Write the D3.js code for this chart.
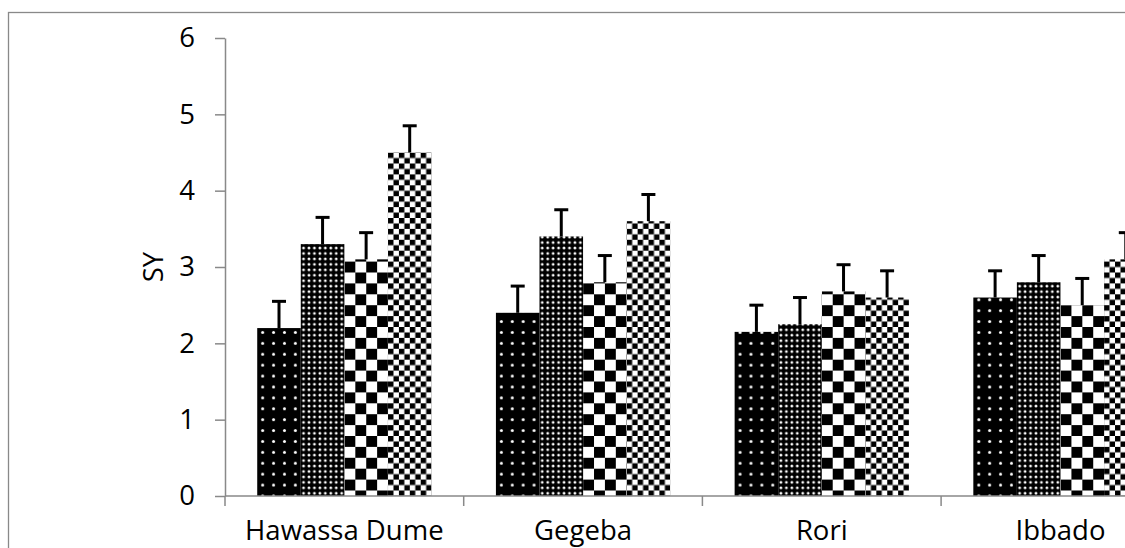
<!DOCTYPE html>
<html>
<head>
<meta charset="utf-8">
<script src="https://cdn.jsdelivr.net/npm/d3@7"></script>
<style>
  html, body { margin: 0; padding: 0; background: #fff; overflow: hidden; }
  svg { display: block; font-family: 'Open Sans', sans-serif; }
</style>
</head>
<body>
<svg id="chart"></svg>
<script>
// Values
const categories = ['Hawassa Dume', 'Gegeba', 'Rori', 'Ibbado']
const seriesKeys = ['s1', 's2', 's3', 's4']
const s1 = [2.2, 2.4, 2.15, 2.6]
const s2 = [3.3, 3.4, 2.25, 2.8]
const s3 = [3.1, 2.8, 2.68, 2.5]
const s4 = [4.5, 3.6, 2.6, 3.1]
const errS1 = [0.35, 0.35, 0.35, 0.35]
const errS2 = [0.35, 0.35, 0.35, 0.35]
const errS3 = [0.35, 0.35, 0.35, 0.35]
const errS4 = [0.35, 0.35, 0.35, 0.35]
const yTicks = [0, 1, 2, 3, 4, 5, 6]
const yTitle = 'SY'

const values = { s1, s2, s3, s4 }
const errors = { s1: errS1, s2: errS2, s3: errS3, s4: errS4 }

const width = 1125
const height = 548
const margin = { left: 225, top: 38, bottom: 52 }
const step = 238.7
const gridColor = '#898989'
const fontSize = 27.5

const svg = d3.select('#chart')
  .attr('width', width)
  .attr('height', height)

// Fill patterns (Excel style)
const defs = svg.append('defs')
const big = 10.9
const small = big / 2

const p1 = defs.append('pattern').attr('id', 'pat-s1')
  .attr('patternUnits', 'userSpaceOnUse').attr('width', big).attr('height', big)
p1.append('rect').attr('width', big).attr('height', big).attr('fill', '#000')
p1.append('circle').attr('cx', big / 2).attr('cy', big / 2).attr('r', 1.5).attr('fill', '#fff')

const p2 = defs.append('pattern').attr('id', 'pat-s2')
  .attr('patternUnits', 'userSpaceOnUse').attr('width', small).attr('height', small)
p2.append('rect').attr('width', small).attr('height', small).attr('fill', '#000')
p2.append('circle').attr('cx', small / 2).attr('cy', small / 2).attr('r', 1.4).attr('fill', '#fff')

const p3 = defs.append('pattern').attr('id', 'pat-s3')
  .attr('patternUnits', 'userSpaceOnUse').attr('width', big * 2).attr('height', big * 2)
p3.append('rect').attr('width', big * 2).attr('height', big * 2).attr('fill', '#fff')
p3.append('rect').attr('width', big).attr('height', big).attr('fill', '#000')
p3.append('rect').attr('x', big).attr('y', big).attr('width', big).attr('height', big).attr('fill', '#000')

const p4 = defs.append('pattern').attr('id', 'pat-s4')
  .attr('patternUnits', 'userSpaceOnUse').attr('width', big).attr('height', big)
p4.append('rect').attr('width', big).attr('height', big).attr('fill', '#fff')
p4.append('rect').attr('width', small).attr('height', small).attr('fill', '#000')
p4.append('rect').attr('x', small).attr('y', small).attr('width', small).attr('height', small).attr('fill', '#000')

// Chart area frame (clipped at right and bottom like the reference)
svg.append('rect')
  .attr('x', 8.5).attr('y', 12.5)
  .attr('width', 2000).attr('height', 2000)
  .attr('fill', 'none')
  .attr('stroke', gridColor)
  .attr('stroke-width', 1.3)

// Scales
const x = d3.scaleBand()
  .domain(categories)
  .range([margin.left, margin.left + step * categories.length])
  .paddingInner(0.27)
  .paddingOuter(0.135)

const xs = d3.scaleBand()
  .domain(seriesKeys)
  .range([0, x.bandwidth()])

const y = d3.scaleLinear()
  .domain([0, 6])
  .range([height - margin.bottom, margin.top])

// Bars
const groups = svg.append('g').attr('class', 'groups')
  .selectAll('g')
  .data(categories)
  .join('g')
    .attr('transform', d => `translate(${x(d)},0)`)

groups.selectAll('rect')
  .data((c, i) => seriesKeys.map(k => ({ key: k, value: values[k][i], err: errors[k][i] })))
  .join('rect')
    .attr('x', d => xs(d.key))
    .attr('y', d => y(d.value))
    .attr('width', xs.bandwidth())
    .attr('height', d => y(0) - y(d.value))
    .attr('fill', d => `url(#pat-${d.key})`)

// Error bars (upper only)
const errG = groups.selectAll('g.err')
  .data((c, i) => seriesKeys.map(k => ({ key: k, value: values[k][i], err: errors[k][i] })))
  .join('g')
    .attr('class', 'err')
    .attr('stroke', '#000')
    .attr('stroke-width', 3)

errG.append('line')
  .attr('x1', d => xs(d.key) + xs.bandwidth() / 2)
  .attr('x2', d => xs(d.key) + xs.bandwidth() / 2)
  .attr('y1', d => y(d.value))
  .attr('y2', d => y(d.value + d.err))

errG.append('line')
  .attr('x1', d => xs(d.key) + xs.bandwidth() / 2 - 7)
  .attr('x2', d => xs(d.key) + xs.bandwidth() / 2 + 7)
  .attr('y1', d => y(d.value + d.err))
  .attr('y2', d => y(d.value + d.err))

// Y axis
const yAxis = svg.append('g')
  .attr('transform', `translate(${margin.left},0)`)
  .call(d3.axisLeft(y).tickValues(yTicks).tickFormat(d3.format('d'))
    .tickSize(10).tickSizeOuter(0).tickPadding(20))

yAxis.select('.domain').attr('stroke', gridColor).attr('stroke-width', 1.5)
yAxis.selectAll('.tick line').attr('stroke', gridColor).attr('stroke-width', 1.5)
yAxis.selectAll('.tick text')
  .attr('font-family', 'Open Sans, sans-serif')
  .attr('font-size', fontSize)
  .attr('fill', '#000')

// X axis: line, boundary ticks, centred labels
const xAxis = svg.append('g')
  .attr('transform', `translate(0,${y(0)})`)

xAxis.append('line')
  .attr('x1', x.range()[0]).attr('x2', x.range()[1])
  .attr('stroke', gridColor).attr('stroke-width', 1.5)

const bounds = d3.range(categories.length + 1).map(i => x.range()[0] + i * x.step())
xAxis.selectAll('line.bound')
  .data(bounds)
  .join('line')
    .attr('class', 'bound')
    .attr('x1', d => d).attr('x2', d => d)
    .attr('y1', 0).attr('y2', 10)
    .attr('stroke', gridColor).attr('stroke-width', 1.5)

xAxis.selectAll('text')
  .data(categories)
  .join('text')
    .attr('x', d => x(d) + x.bandwidth() / 2)
    .attr('y', 44)
    .attr('text-anchor', 'middle')
    .attr('font-size', fontSize)
    .attr('fill', '#000')
    .text(d => d)

// Y axis title
svg.append('text')
  .attr('transform', `translate(163,${y(3)}) rotate(-90)`)
  .attr('text-anchor', 'middle')
  .attr('font-size', fontSize)
  .attr('fill', '#000')
  .text(yTitle)
</script>
</body>
</html>
